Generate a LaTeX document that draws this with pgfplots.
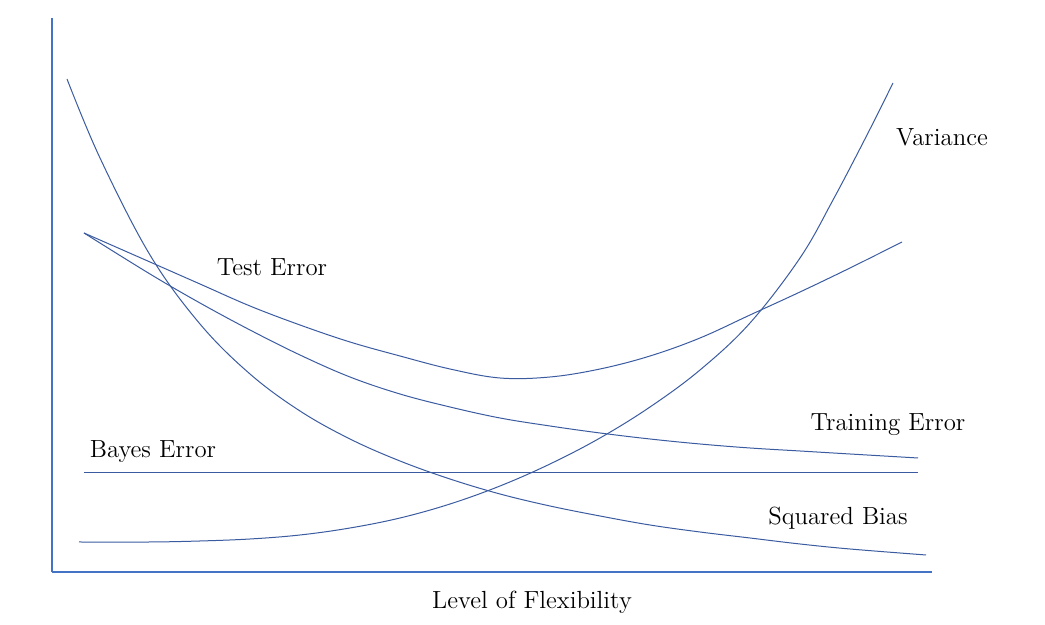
\documentclass[border=0pt]{standalone}
\usepackage{pgfplots}
\pgfplotsset{compat=1.18}
\definecolor{curve}{HTML}{3A5BA0}
\definecolor{axc}{HTML}{4472C4}
\begin{document}
\fontsize{12.4}{15}\selectfont
\begin{tikzpicture}[x=0.5pt,y=0.5pt]
\path[use as bounding box] (0,0) rectangle (1045,625);
\begin{axis}[
  at={(52*0.5pt,53*0.5pt)}, anchor=south west,
  scale only axis, width=440pt, height=277pt,
  xmin=52, xmax=932, ymin=53, ymax=607,
  axis lines=left, axis line style={-, color=axc, line width=0.6pt},
  xtick=\empty, ytick=\empty,
  clip=false,
]
% Squared Bias
\addplot[color=curve, line width=0.5pt, mark=none, smooth, tension=0.6] coordinates {(67,546)(100,467)(150,370)(200,301)(250,251)(300,214)(350,186)(400,164)(450,146)(500,131)(550,119)(600,109)(650,100)(700,93)(750,87)(800,81)(850,76)(926,70)};
% Variance
\addplot[color=curve, line width=0.5pt, mark=none, smooth, tension=0.6] coordinates {(79,83)(150,83)(200,84)(250,86)(300,90)(350,97)(400,107)(450,121)(500,139)(550,161)(600,187)(650,218)(700,255)(750,302)(800,367)(833,425)(867,490)(893,542)};
% Test Error
\addplot[color=curve, line width=0.5pt, mark=none, smooth, tension=0.6] coordinates {(84,392)(150,363)(200,341)(250,319)(300,300)(350,283)(400,269)(450,256)(500,247)(550,248)(600,256)(650,269)(700,287)(750,310)(800,333)(850,357)(902,383)};
% Training Error
\addplot[color=curve, line width=0.5pt, mark=none, smooth, tension=0.6] coordinates {(84,392)(150,351)(200,322)(250,295)(300,270)(350,248)(400,231)(450,218)(500,207)(550,199)(600,192)(650,186)(700,181)(750,177)(800,174)(850,171)(918,167)};
% Bayes Error
\addplot[color=curve, line width=0.5pt, mark=none] coordinates {(84,152)(918,152)};
\node at (axis cs:942,488) {Variance};
\node at (axis cs:272,358) {Test Error};
\node at (axis cs:888,200) {Training Error};
\node at (axis cs:153,173) {Bayes Error};
\node at (axis cs:838,107) {Squared Bias};
\node at (axis cs:532,23) {Level of Flexibility};
\end{axis}
\end{tikzpicture}
\end{document}
